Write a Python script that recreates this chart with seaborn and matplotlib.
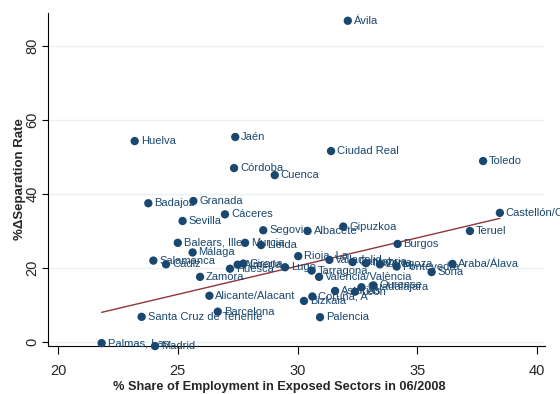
import pandas as pd
import numpy as np
import matplotlib
matplotlib.use("Agg")
import matplotlib.pyplot as plt
import seaborn as sns

# --- data ---
provinces = ['Ávila', 'Jaén', 'Huelva', 'Ciudad Real', 'Toledo', 'Córdoba', 'Cuenca',
             'Castellón/Castelló', 'Teruel', 'Badajoz', 'Granada', 'Cáceres', 'Sevilla',
             'Segovia', 'Albacete', 'Gipuzkoa', 'Burgos', 'Araba/Álava', 'Soria',
             'Pontevedra', 'Zaragoza', 'Navarra', 'Cantabria', 'Valladolid', 'Rioja, La',
             'Lugo', 'Tarragona', 'Valencia/València', 'Ourense', 'Guadalajara', 'León',
             'Asturias', 'Coruña, A', 'Bizkaia', 'Palencia', 'Balears, Illes', 'Murcia',
             'Lleida', 'Málaga', 'Salamanca', 'Cádiz', 'Huesca', 'Almería', 'Girona',
             'Zamora', 'Alicante/Alacant', 'Barcelona', 'Santa Cruz de Tenerife',
             'Madrid', 'Palmas, Las']
exposed_share = [32.1, 27.4, 23.2, 31.4, 37.75, 27.35, 29.05,
                 38.45, 37.2, 23.77, 25.65, 26.97, 25.2,
                 28.57, 30.42, 31.91, 34.18, 36.47, 35.6,
                 34.14, 33.44, 32.86, 32.3, 31.33, 30.03,
                 29.48, 30.59, 30.9, 33.17, 32.67, 32.4,
                 31.57, 30.62, 30.27, 30.94, 25.0, 27.81,
                 28.48, 25.62, 23.98, 24.51, 27.18, 27.5, 27.74,
                 25.93, 26.32, 26.67, 23.49,
                 24.05, 21.82]
sep_rate_change = [86.8, 55.4, 54.3, 51.6, 48.9, 47.0, 45.1,
                   34.9, 30.0, 37.5, 38.1, 34.5, 32.7,
                   30.2, 30.0, 31.2, 26.5, 21.1, 18.9,
                   20.4, 21.0, 21.3, 21.6, 22.2, 23.2,
                   20.2, 19.3, 17.6, 15.3, 14.8, 13.6,
                   13.8, 12.3, 11.1, 6.7, 26.8, 26.8,
                   26.2, 24.2, 22.0, 21.0, 19.8, 20.9, 21.2,
                   17.6, 12.5, 8.2, 6.8,
                   -1.1, -0.3]
# fitted line as shown in the reference (weighted fit)
fit_intercept = -25.3
fit_slope = 1.527
x_ticks = [20, 25, 30, 35, 40]
y_ticks = [0, 20, 40, 60, 80]

df = pd.DataFrame({'province': provinces, 'share': exposed_share, 'sep': sep_rate_change})
fit_x = np.array([df['share'].min(), df['share'].max()])
fit = pd.DataFrame({'share': fit_x, 'sep': fit_intercept + fit_slope * fit_x})

navy = '#1a476f'
maroon = '#90353b'

sns.set_style('white')
plt.rcParams['font.family'] = ['Liberation Sans', 'DejaVu Sans']

fig = plt.figure(figsize=(5.6, 3.94), dpi=100)
ax = fig.add_axes([0.0857, 0.1218, 0.8873, 0.8452])

for yv in y_ticks:
    ax.axhline(yv, color='#eaf2f3', lw=1.0, zorder=0)

sns.lineplot(data=fit, x='share', y='sep', ax=ax, color=maroon, lw=1.0, zorder=2)
sns.scatterplot(data=df, x='share', y='sep', ax=ax, color=navy, s=36,
                edgecolor='none', zorder=3, clip_on=False)

for name, xv, yv in zip(df['province'], df['share'], df['sep']):
    ax.annotate(name, (xv, yv), xytext=(4.3, 0), textcoords='offset points',
                va='center', ha='left', fontsize=8, color=navy,
                annotation_clip=False, zorder=4)

ax.set_xlim(19.58, 40.33)
ax.set_ylim(-1.08, 88.9)
ax.set_xticks(x_ticks)
ax.set_yticks(y_ticks)
ax.tick_params(axis='x', direction='out', length=6, width=0.8, pad=7,
               labelsize=10.5, bottom=True, color='black')
ax.tick_params(axis='y', direction='out', length=4.5, width=0.8, pad=1.5,
               labelsize=10.5, left=True, color='black')
for lab in ax.get_yticklabels():
    lab.set_rotation(90)
    lab.set_va('center')
for side in ['top', 'right']:
    ax.spines[side].set_visible(False)
for side in ['left', 'bottom']:
    ax.spines[side].set_color('black')
    ax.spines[side].set_linewidth(0.8)

ax.set_xlabel('% Share of Employment in Exposed Sectors in 06/2008',
              fontsize=9.2, fontweight='bold', labelpad=3)
ax.xaxis.set_label_coords(0.465, -0.105)
ax.set_ylabel('%ΔSeparation Rate', fontsize=9.5, fontweight='bold', labelpad=0)

fig.savefig('out.png', dpi=100)
